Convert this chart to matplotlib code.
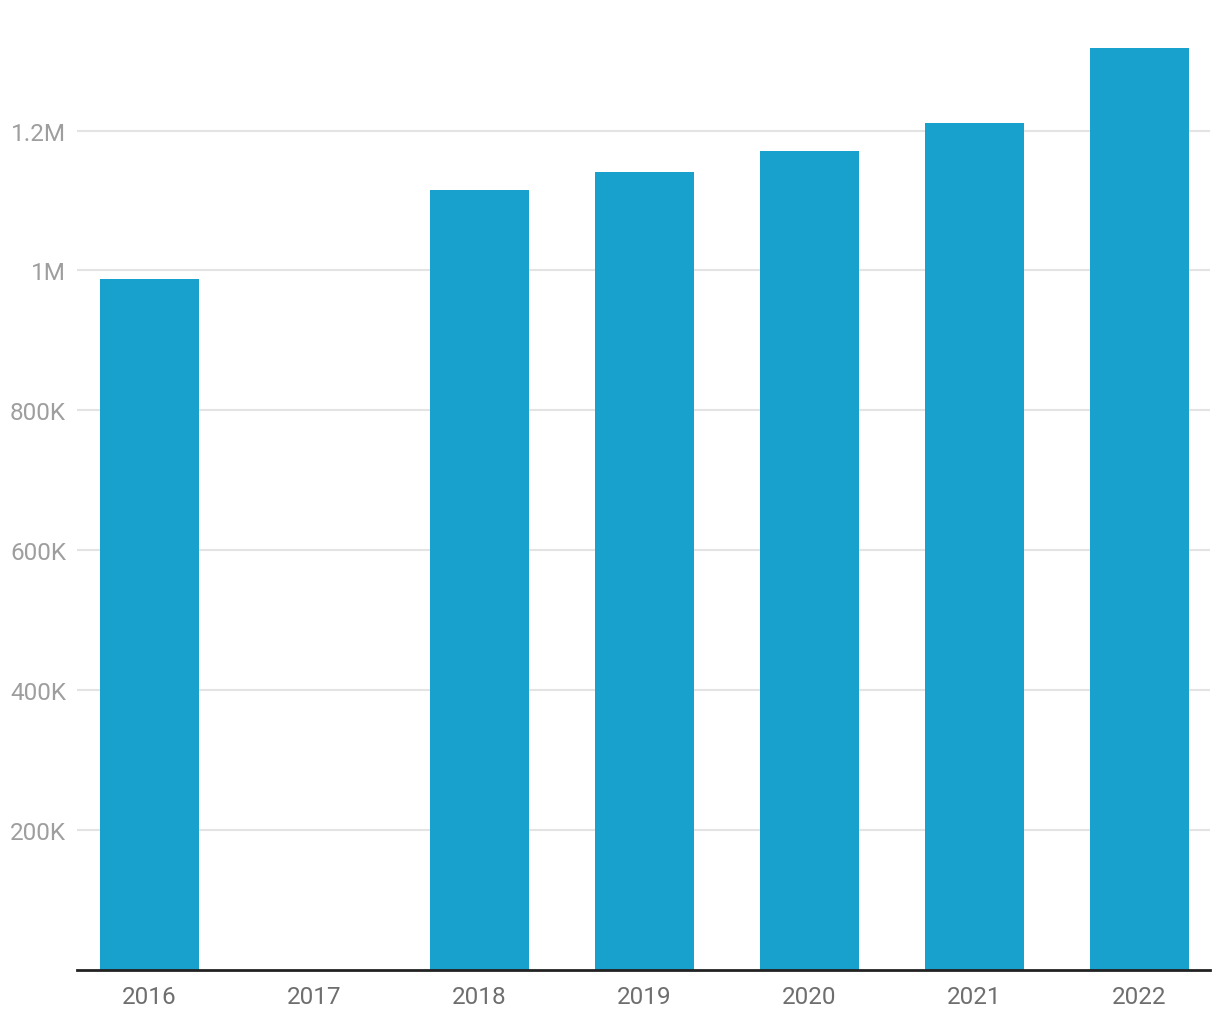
import matplotlib
matplotlib.use("Agg")
import matplotlib.pyplot as plt

years = ["2016", "2017", "2018", "2019", "2020", "2021", "2022"]
values = [988000, 0, 1115000, 1141000, 1170000, 1211000, 1318000]
yticks = [200000, 400000, 600000, 800000, 1000000, 1200000]
ytick_labels = ["200K", "400K", "600K", "800K", "1M", "1.2M"]

plt.rcParams['font.family'] = ['Roboto', 'DejaVu Sans']

W, H = 1220, 1020
fig = plt.figure(figsize=(W / 100, H / 100), dpi=100)
ax = fig.add_axes([77 / W, 1 - 970.5 / H, (1210 - 77) / W, (970.5 - 49) / H])

x = list(range(len(years)))
ax.bar(x, values, width=0.6, color="#19a1cd", zorder=2)

ax.set_xlim(-0.44, 6.43)
ax.set_ylim(0, max(values))
ax.set_yticks(yticks)
ax.set_yticklabels(ytick_labels)
ax.set_xticks(x)
ax.set_xticklabels(years)

ax.grid(axis="y", color="#e3e3e3", linewidth=1.5, zorder=0)
for s in ["top", "right", "left"]:
    ax.spines[s].set_visible(False)
ax.spines["bottom"].set_color("#222222")
ax.spines["bottom"].set_linewidth(2)
ax.spines["bottom"].set_zorder(3)

ax.tick_params(axis="y", length=0, pad=8, labelsize=17.5, labelcolor="#9e9e9e")
ax.tick_params(axis="x", length=0, pad=11, labelsize=17.5, labelcolor="#6e6e6e")

fig.savefig("out.png", dpi=100)
